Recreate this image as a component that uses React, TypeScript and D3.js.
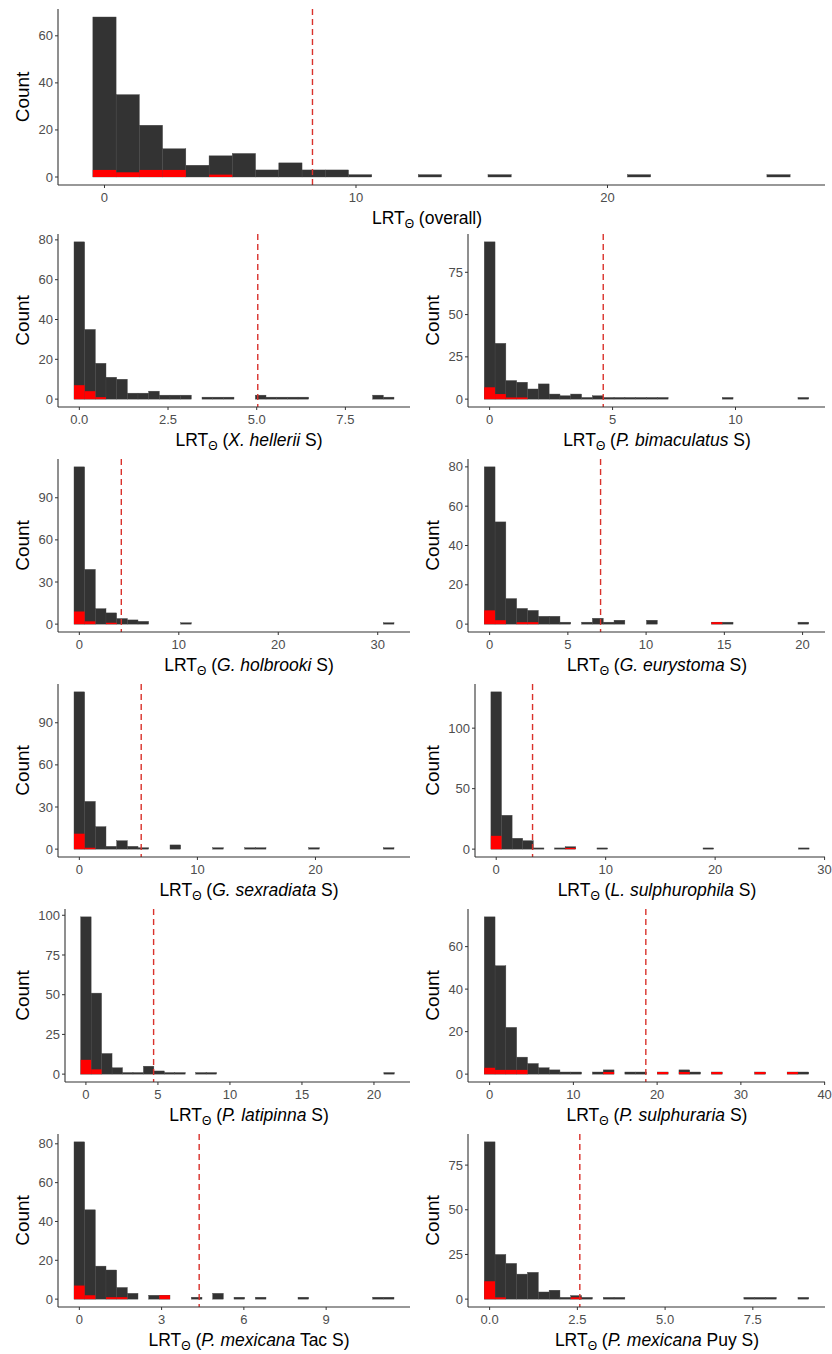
import React from "react";
import * as d3 from "d3";

// Histogram counts (30 bins each), the red subset counts, the data range and the cut-off
const countsOverall = [68, 35, 22, 12, 5, 9, 10, 3, 6, 3, 3, 1, 0, 0, 1, 0, 0, 1, 0, 0, 0, 0, 0, 1, 0, 0, 0, 0, 0, 1];
const redOverall = [3, 2, 3, 3, 0, 1];
const rangeOverall = [0, 26.8];
const cutOverall = 8.27;

const countsHellerii = [79, 35, 18, 11, 10, 3, 3, 4, 2, 2, 2, 0, 1, 1, 1, 0, 0, 2, 1, 1, 1, 1, 0, 0, 0, 0, 0, 0, 2, 1];
const redHellerii = [7, 4, 1];
const rangeHellerii = [0, 8.72];
const cutHellerii = 5.03;

const countsBimaculatus = [93, 33, 11, 10, 6, 9, 3, 2, 3, 1, 2, 1, 1, 1, 1, 1, 1, 0, 0, 0, 0, 0, 1, 0, 0, 0, 0, 0, 0, 1];
const redBimaculatus = [7, 3, 1, 1];
const rangeBimaculatus = [0, 12.76];
const cutBimaculatus = 4.62;

const countsHolbrooki = [112, 39, 11, 8, 4, 3, 2, 0, 0, 0, 1, 0, 0, 0, 0, 0, 0, 0, 0, 0, 0, 0, 0, 0, 0, 0, 0, 0, 0, 1];
const redHolbrooki = [9, 2, 0, 1];
const rangeHolbrooki = [0, 31.1];
const cutHolbrooki = 4.22;

const countsEurystoma = [80, 52, 13, 8, 7, 4, 4, 1, 0, 1, 3, 1, 2, 0, 0, 2, 0, 0, 0, 0, 0, 1, 1, 0, 0, 0, 0, 0, 0, 1];
const redEurystoma = [7, 2, 0, 1, 1, 0, 0, 0, 0, 0, 0, 0, 0, 0, 0, 0, 0, 0, 0, 0, 0, 1];
const rangeEurystoma = [0, 20.05];
const cutEurystoma = 7.09;

const countsSexradiata = [112, 34, 16, 2, 6, 2, 1, 0, 0, 3, 0, 0, 0, 1, 0, 0, 1, 1, 0, 0, 0, 0, 1, 0, 0, 0, 0, 0, 0, 1];
const redSexradiata = [11, 1];
const rangeSexradiata = [0, 26.2];
const cutSexradiata = 5.24;

const countsSulphurophila = [130, 28, 9, 7, 1, 0, 1, 2, 0, 0, 1, 0, 0, 0, 0, 0, 0, 0, 0, 0, 1, 0, 0, 0, 0, 0, 0, 0, 0, 1];
const redSulphurophila = [11, 0, 0, 0, 0, 0, 0, 1];
const rangeSulphurophila = [0, 28.1];
const cutSulphurophila = 3.32;

const countsLatipinna = [99, 51, 13, 4, 1, 1, 5, 2, 1, 1, 0, 1, 1, 0, 0, 0, 0, 0, 0, 0, 0, 0, 0, 0, 0, 0, 0, 0, 0, 1];
const redLatipinna = [9, 3];
const rangeLatipinna = [0, 21.05];
const cutLatipinna = 4.7;

const countsSulphuraria = [74, 51, 22, 8, 5, 3, 2, 1, 1, 0, 1, 2, 0, 1, 1, 0, 1, 0, 2, 1, 0, 1, 0, 0, 0, 1, 0, 0, 1, 1];
const redSulphuraria = [3, 2, 2, 2, 0, 0, 0, 0, 0, 0, 0, 1, 0, 0, 0, 0, 1, 0, 1, 0, 0, 1, 0, 0, 0, 1, 0, 0, 1];
const rangeSulphuraria = [0, 37.46];
const cutSulphuraria = 18.65;

const countsTac = [81, 46, 17, 15, 6, 3, 0, 2, 2, 0, 0, 1, 0, 3, 0, 1, 0, 1, 0, 0, 0, 1, 0, 0, 0, 0, 0, 0, 1, 1];
const redTac = [7, 2, 0, 1, 1, 0, 0, 0, 2];
const rangeTac = [0, 11.28];
const cutTac = 4.37;

const countsPuy = [88, 25, 20, 14, 15, 4, 5, 1, 2, 1, 0, 1, 1, 0, 0, 0, 0, 0, 0, 0, 0, 0, 0, 0, 1, 1, 1, 0, 0, 1];
const redPuy = [10, 1, 0, 0, 0, 0, 0, 0, 1];
const rangePuy = [0, 8.94];
const cutPuy = 2.57;

// Axis tick values
const xTicksOverall = [0, 10, 20];
const yTicksOverall = [0, 20, 40, 60];
const xTicksHellerii = [0, 2.5, 5, 7.5];
const yTicksHellerii = [0, 20, 40, 60, 80];
const xTicksBimaculatus = [0, 5, 10];
const yTicksBimaculatus = [0, 25, 50, 75];
const xTicksHolbrooki = [0, 10, 20, 30];
const yTicksHolbrooki = [0, 30, 60, 90];
const xTicksEurystoma = [0, 5, 10, 15, 20];
const yTicksEurystoma = [0, 20, 40, 60, 80];
const xTicksSexradiata = [0, 10, 20];
const yTicksSexradiata = [0, 30, 60, 90];
const xTicksSulphurophila = [0, 10, 20, 30];
const yTicksSulphurophila = [0, 50, 100];
const xTicksLatipinna = [0, 5, 10, 15, 20];
const yTicksLatipinna = [0, 25, 50, 75, 100];
const xTicksSulphuraria = [0, 10, 20, 30, 40];
const yTicksSulphuraria = [0, 20, 40, 60];
const xTicksTac = [0, 3, 6, 9];
const yTicksTac = [0, 20, 40, 60, 80];
const xTicksPuy = [0, 2.5, 5, 7.5];
const yTicksPuy = [0, 25, 50, 75];

type Panel = {
  counts: number[];
  red: number[];
  range: number[];
  cut: number;
  xTicks: number[];
  yTicks: number[];
  xFmt: (v: number) => string;
  species: string | null;
  suffix: string;
  row: number;
  col: number;
};

const fmtInt = (v: number) => d3.format("d")(v);
const fmt1 = (v: number) => d3.format(".1f")(v);

const panels: Panel[] = [
  { counts: countsOverall, red: redOverall, range: rangeOverall, cut: cutOverall, xTicks: xTicksOverall, yTicks: yTicksOverall, xFmt: fmtInt, species: null, suffix: "overall", row: 0, col: 0 },
  { counts: countsHellerii, red: redHellerii, range: rangeHellerii, cut: cutHellerii, xTicks: xTicksHellerii, yTicks: yTicksHellerii, xFmt: fmt1, species: "X. hellerii", suffix: "S", row: 1, col: 0 },
  { counts: countsBimaculatus, red: redBimaculatus, range: rangeBimaculatus, cut: cutBimaculatus, xTicks: xTicksBimaculatus, yTicks: yTicksBimaculatus, xFmt: fmtInt, species: "P. bimaculatus", suffix: "S", row: 1, col: 1 },
  { counts: countsHolbrooki, red: redHolbrooki, range: rangeHolbrooki, cut: cutHolbrooki, xTicks: xTicksHolbrooki, yTicks: yTicksHolbrooki, xFmt: fmtInt, species: "G. holbrooki", suffix: "S", row: 2, col: 0 },
  { counts: countsEurystoma, red: redEurystoma, range: rangeEurystoma, cut: cutEurystoma, xTicks: xTicksEurystoma, yTicks: yTicksEurystoma, xFmt: fmtInt, species: "G. eurystoma", suffix: "S", row: 2, col: 1 },
  { counts: countsSexradiata, red: redSexradiata, range: rangeSexradiata, cut: cutSexradiata, xTicks: xTicksSexradiata, yTicks: yTicksSexradiata, xFmt: fmtInt, species: "G. sexradiata", suffix: "S", row: 3, col: 0 },
  { counts: countsSulphurophila, red: redSulphurophila, range: rangeSulphurophila, cut: cutSulphurophila, xTicks: xTicksSulphurophila, yTicks: yTicksSulphurophila, xFmt: fmtInt, species: "L. sulphurophila", suffix: "S", row: 3, col: 1 },
  { counts: countsLatipinna, red: redLatipinna, range: rangeLatipinna, cut: cutLatipinna, xTicks: xTicksLatipinna, yTicks: yTicksLatipinna, xFmt: fmtInt, species: "P. latipinna", suffix: "S", row: 4, col: 0 },
  { counts: countsSulphuraria, red: redSulphuraria, range: rangeSulphuraria, cut: cutSulphuraria, xTicks: xTicksSulphuraria, yTicks: yTicksSulphuraria, xFmt: fmtInt, species: "P. sulphuraria", suffix: "S", row: 4, col: 1 },
  { counts: countsTac, red: redTac, range: rangeTac, cut: cutTac, xTicks: xTicksTac, yTicks: yTicksTac, xFmt: fmtInt, species: "P. mexicana", suffix: "Tac S", row: 5, col: 0 },
  { counts: countsPuy, red: redPuy, range: rangePuy, cut: cutPuy, xTicks: xTicksPuy, yTicks: yTicksPuy, xFmt: fmt1, species: "P. mexicana", suffix: "Puy S", row: 5, col: 1 },
];

const W = 832;
const H = 1354;
const FONT = "'Liberation Sans', Arial, Helvetica, sans-serif";
const BAR = "#333333";
const RED = "#ff0000";
const CUT = "#d9312b";
const AXIS = "#333333";
const TICK_TEXT = "#4d4d4d";
const TICK_SIZE = 13;
const TITLE_SIZE = 17.5;
const COUNT_SIZE = 19;

function HistPanel({ p }: { p: Panel }) {
  const nb = p.counts.length;
  const [mn, mx] = p.range;
  const bw = (mx - mn) / (nb - 1);
  const lo = mn - bw / 2;
  const hi = mx + bw / 2;
  const pad = (hi - lo) * 0.05;

  const maxLabel = d3.max(p.yTicks, (t) => String(t).length) || 2;
  const extra = (maxLabel - 2) * 7;
  const left = p.row === 0 ? 58 : p.col === 0 ? 58 + extra : 468 + extra;
  const right = p.row === 0 ? 825 : p.col === 0 ? 410 : 825;
  const top = p.row === 0 ? 9 : 234 + 225 * (p.row - 1);
  const bottom = p.row === 0 ? 185 : top + 173;

  const x = d3.scaleLinear().domain([lo - pad, hi + pad]).range([left, right]);
  const ymax = d3.max(p.counts) || 1;
  const y = d3.scaleLinear().domain([-0.05 * ymax, ymax * 1.05]).range([bottom, top]);

  const bins = d3.range(nb).map((i) => ({
    x0: lo + i * bw,
    x1: lo + (i + 1) * bw,
    n: p.counts[i],
    r: p.red[i] || 0,
  }));

  const titleX = p.row === 0 ? 427 : p.col === 0 ? 249 : 657;
  const countX = p.col === 0 ? 22 : 432;

  return (
    <g>
      {bins
        .filter((b) => b.n > 0)
        .map((b, i) => (
          <rect
            key={"b" + i}
            x={x(b.x0)}
            y={y(b.n)}
            width={x(b.x1) - x(b.x0)}
            height={y(0) - y(b.n)}
            fill={BAR}
            stroke="#454545"
            strokeWidth={0.4}
          />
        ))}
      {bins
        .filter((b) => b.r > 0)
        .map((b, i) => (
          <rect
            key={"r" + i}
            x={x(b.x0)}
            y={y(b.r)}
            width={x(b.x1) - x(b.x0)}
            height={y(0) - y(b.r)}
            fill={RED}
          />
        ))}
      <line
        x1={x(p.cut)}
        x2={x(p.cut)}
        y1={top}
        y2={bottom}
        stroke={CUT}
        strokeWidth={1.4}
        strokeDasharray="6,4"
      />
      {/* axes */}
      <line x1={left} x2={left} y1={top} y2={bottom} stroke={AXIS} strokeWidth={1.1} />
      <line x1={left} x2={right} y1={bottom} y2={bottom} stroke={AXIS} strokeWidth={1.1} />
      {p.yTicks.map((t) => (
        <g key={"yt" + t}>
          <line x1={left - 3} x2={left} y1={y(t)} y2={y(t)} stroke={AXIS} strokeWidth={1} />
          <text
            x={left - 5}
            y={y(t)}
            dy="0.35em"
            textAnchor="end"
            fontSize={TICK_SIZE}
            fill={TICK_TEXT}
            fontFamily={FONT}
          >
            {t}
          </text>
        </g>
      ))}
      {p.xTicks.map((t) => (
        <g key={"xt" + t}>
          <line x1={x(t)} x2={x(t)} y1={bottom} y2={bottom + 3} stroke={AXIS} strokeWidth={1} />
          <text
            x={x(t)}
            y={bottom + 17}
            textAnchor="middle"
            fontSize={TICK_SIZE}
            fill={TICK_TEXT}
            fontFamily={FONT}
          >
            {p.xFmt(t)}
          </text>
        </g>
      ))}
      <text
        x={titleX}
        y={bottom + 39}
        textAnchor="middle"
        fontSize={TITLE_SIZE}
        fill="#000"
        fontFamily={FONT}
      >
        <tspan>LRT</tspan>
        <tspan fontSize={12} dy={4}>Θ</tspan>
        <tspan dy={-4}>{" ("}</tspan>
        {p.species ? (
          <>
            <tspan fontStyle="italic">{p.species}</tspan>
            <tspan>{" " + p.suffix + ")"}</tspan>
          </>
        ) : (
          <tspan>{p.suffix + ")"}</tspan>
        )}
      </text>
      <text
        transform={`translate(${countX},${(top + bottom) / 2}) rotate(-90)`}
        dy="0.35em"
        textAnchor="middle"
        fontSize={COUNT_SIZE}
        fill="#000"
        fontFamily={FONT}
      >
        Count
      </text>
    </g>
  );
}

export default function App() {
  return (
    <div style={{ position: "absolute", left: 0, top: 0, width: W, height: H, background: "#fff" }}>
      <svg width={W} height={H} viewBox={`0 0 ${W} ${H}`} style={{ display: "block" }}>
        <rect width={W} height={H} fill="#fff" />
        {panels.map((p, i) => (
          <HistPanel key={i} p={p} />
        ))}
      </svg>
    </div>
  );
}
